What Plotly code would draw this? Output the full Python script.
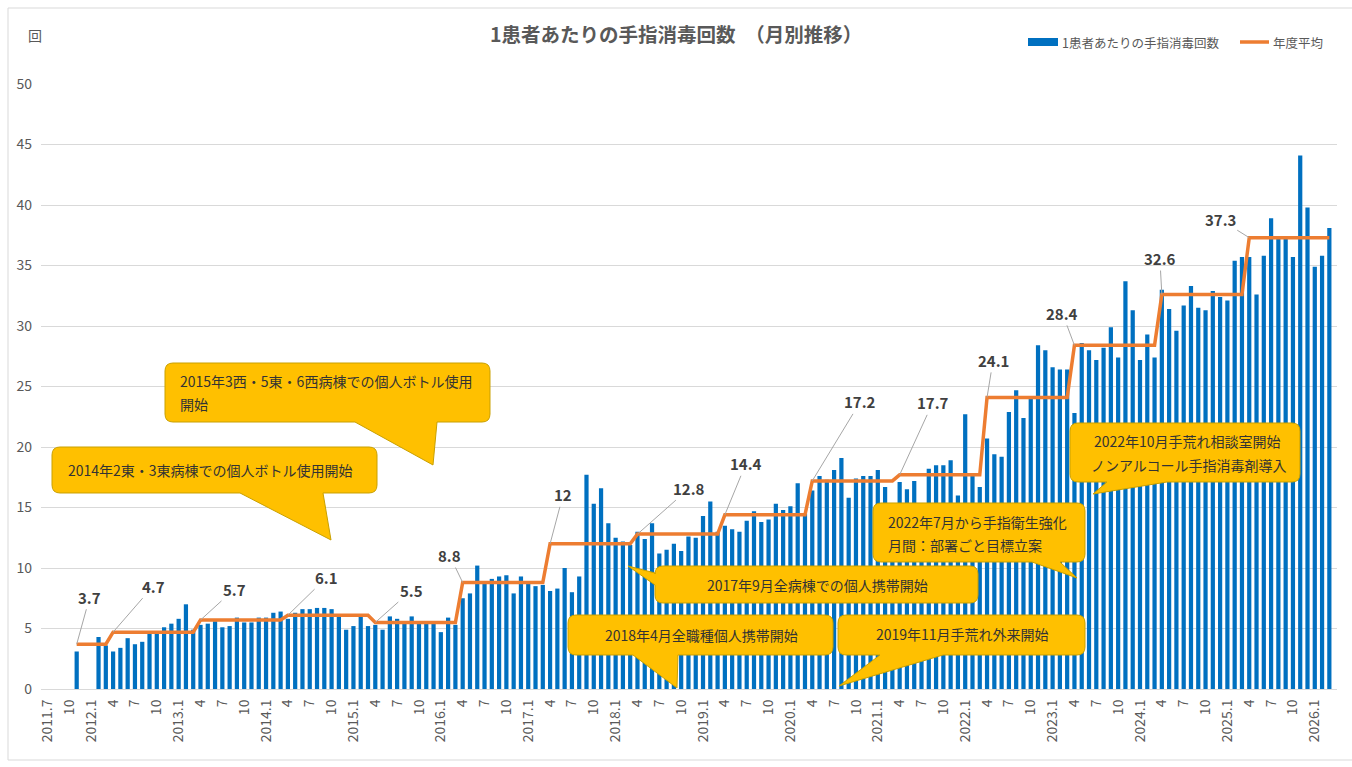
import plotly.graph_objects as go

# ---------------- data ----------------
FIRST_YEAR, FIRST_MONTH = 2011, 7
LAST_YEAR, LAST_MONTH = 2026, 3

months = []          # category keys, e.g. "2011-07"
_y, _m = FIRST_YEAR, FIRST_MONTH
while (_y, _m) <= (LAST_YEAR, LAST_MONTH):
    months.append(f"{_y}-{_m:02d}")
    _m += 1
    if _m > 12:
        _m = 1
        _y += 1

# monthly values (calendar years), None = no data
v2011 = [None, None, None, None, 3.1, None]
v2012 = [None, 4.3, 3.6, 3.1, 3.4, 4.2, 3.7, 3.9, 4.6, 4.7, 5.1, 5.4]
v2013 = [5.8, 7.0, 4.9, 5.3, 5.4, 5.6, 5.1, 5.2, 5.9, 5.5, 5.5, 5.9]
v2014 = [5.9, 6.3, 6.4, 5.8, 6.3, 6.6, 6.6, 6.7, 6.7, 6.6, 6.0, 4.9]
v2015 = [5.2, 6.0, 5.2, 5.3, 4.9, 6.0, 5.8, 5.4, 6.0, 5.4, 5.4, 5.4]
v2016 = [4.7, 5.9, 5.3, 7.5, 7.9, 10.2, 8.7, 9.1, 9.3, 9.4, 7.9, 9.3]
v2017 = [8.7, 8.5, 8.6, 8.1, 8.3, 10.0, 8.0, 9.3, 17.7, 15.3, 16.6, 13.7]
v2018 = [12.5, 12.2, 11.9, 13.0, 12.4, 13.7, 11.2, 11.5, 12.0, 11.4, 12.6, 12.5]
v2019 = [14.3, 15.5, 13.0, 13.5, 13.2, 13.0, 13.9, 14.7, 13.8, 14.0, 15.3, 14.8]
v2020 = [15.1, 17.0, 14.5, 16.4, 17.6, 17.3, 18.1, 19.1, 15.8, 17.4, 17.6, 17.6]
v2021 = [18.1, 16.7, 14.7, 17.1, 16.5, 17.2, 14.5, 18.2, 18.5, 18.5, 18.9, 16.0]
v2022 = [22.7, 17.6, 16.7, 20.7, 19.4, 19.2, 22.9, 24.7, 22.4, 24.0, 28.4, 28.0]
v2023 = [26.6, 26.4, 26.4, 22.8, 28.6, 28.0, 27.2, 28.2, 29.9, 27.4, 33.7, 31.3]
v2024 = [27.2, 29.3, 27.4, 33.0, 31.4, 29.6, 31.7, 33.3, 31.5, 31.3, 32.9, 32.4]
v2025 = [32.1, 35.4, 35.7, 35.7, 32.6, 35.8, 38.9, 37.4, 37.4, 35.7, 44.1, 39.8]
v2026 = [34.9, 35.8, 38.1]
values = (v2011 + v2012 + v2013 + v2014 + v2015 + v2016 + v2017 + v2018 +
          v2019 + v2020 + v2021 + v2022 + v2023 + v2024 + v2025 + v2026)

fiscal_years = [2011, 2012, 2013, 2014, 2015, 2016, 2017, 2018,
                2019, 2020, 2021, 2022, 2023, 2024, 2025]
fy_avg = [3.7, 4.7, 5.7, 6.1, 5.5, 8.8, 12, 12.8, 14.4, 17.2, 17.7, 24.1, 28.4, 32.6, 37.3]
fy_label_month = ["2011-11"] + [f"{fy}-04" for fy in fiscal_years[1:]]
avg_start = "2011-11"

bar_name = "1患者あたりの手指消毒回数"
line_name = "年度平均"
title_text = "1患者あたりの手指消毒回数　（月別推移）"
unit_text = "回"

callout_texts = [
    ["2014年2東・3東病棟での個人ボトル使用開始"],
    ["2015年3西・5東・6西病棟での個人ボトル使用", "開始"],
    ["2017年9月全病棟での個人携帯開始"],
    ["2018年4月全職種個人携帯開始"],
    ["2019年11月手荒れ外来開始"],
    ["2022年7月から手指衛生強化", "月間：部署ごと目標立案"],
    ["2022年10月手荒れ相談室開始", "ノンアルコール手指消毒剤導入"],
]

# ---------------- derived series ----------------
avg_x, avg_y = [], []
for mth in months[months.index(avg_start):]:
    yy, mm = map(int, mth.split("-"))
    fy = yy if mm >= 4 else yy - 1
    avg_x.append(mth)
    avg_y.append(fy_avg[fiscal_years.index(fy)])

tickvals, ticktext = [], []
for i, mth in enumerate(months):
    if i % 3 == 0:
        yy, mm = map(int, mth.split("-"))
        tickvals.append(mth)
        ticktext.append(f"{yy}.{mm}" if (mm == 1 or i == 0) else str(mm))

# ---------------- layout geometry (pixels) ----------------
W, H = 1352, 767
PL, PR, PT, PB = 41, 1337, 84, 689


def px(x):
    return (x - PL) / (PR - PL)


def py(y):
    return (PB - y) / (PB - PT)


FONT = "Noto Sans CJK JP, Noto Sans, sans-serif"
GRAY = "#595959"

fig = go.Figure()
fig.add_trace(go.Bar(x=months, y=values, name=bar_name, marker_color="#0070C0",
                     marker_line_width=0, showlegend=False, hoverinfo="skip"))
fig.add_trace(go.Scatter(x=avg_x, y=avg_y, name=line_name, mode="lines",
                         line=dict(color="#ED7D31", width=3.5), showlegend=False,
                         hoverinfo="skip"))

annotations = []
shapes = []

# data labels of fiscal-year averages (x as category index)
label_offsets = [(13, -47), (40, -46), (34, -31), (39, -38), (36, -32), (-13, -27),
                 (13, -49), (52, -46), (21, -51), (48, -79), (33, -72), (6, -37),
                 (-12, -32), (-2, -36), (-29, -18)]
for v, mth, (dx, dy) in zip(fy_avg, fy_label_month, label_offsets):
    annotations.append(dict(
        x=months.index(mth), y=v, xref="x", yref="y", text=f"<b>{v:g}</b>",
        showarrow=True, arrowhead=0, arrowwidth=1, arrowcolor="#A6A6A6",
        ax=dx, ay=dy, standoff=0,
        font=dict(family=FONT, size=15, color="#404040")))

# callouts (box in px, tail, text line positions)
callout_geom = [
    dict(box=(52, 447, 377, 493), tail=("bottom", 240, 323, 331, 540),
         pos=[(66, 470, "left")]),
    dict(box=(165, 363, 490, 422), tail=("bottom", 355, 437, 433, 465),
         pos=[(178, 381, "left"), (178, 404, "left")]),
    dict(box=(655, 566, 978, 603), tail=("left", 573, 585, 628, 566),
         pos=[(817, 585, "center")]),
    dict(box=(568, 615, 833, 655), tail=("bottom", 633, 678, 677, 688),
         pos=[(701, 635, "center")]),
    dict(box=(838, 615, 1085, 655), tail=("bottom", 880, 943, 839, 686),
         pos=[(962, 634, "center")]),
    dict(box=(873, 503, 1085, 562), tail=("bottom", 1032, 1060, 1077, 578),
         pos=[(886, 522, "left"), (886, 545, "left")]),
    dict(box=(1070, 423, 1300, 482), tail=("bottom", 1107, 1167, 1093, 494),
         pos=[(1187, 441, "center"), (1189, 465, "center")]),
]


def P(x, y):
    return f"{px(x):.5f},{py(y):.5f}"


def callout_path(box, tail, r=8):
    x0, y0, x1, y1 = box
    side, b0, b1, tx, ty = tail
    s = f"M {P(x0 + r, y0)} L {P(x1 - r, y0)} Q {P(x1, y0)} {P(x1, y0 + r)} "
    s += f"L {P(x1, y1 - r)} Q {P(x1, y1)} {P(x1 - r, y1)} "
    if side == "bottom":
        s += f"L {P(b1, y1)} L {P(tx, ty)} L {P(b0, y1)} "
    s += f"L {P(x0 + r, y1)} Q {P(x0, y1)} {P(x0, y1 - r)} "
    if side == "left":
        s += f"L {P(x0, b1)} L {P(tx, ty)} L {P(x0, b0)} "
    s += f"L {P(x0, y0 + r)} Q {P(x0, y0)} {P(x0 + r, y0)} Z"
    return s


for texts, g in zip(callout_texts, callout_geom):
    shapes.append(dict(type="path", xref="paper", yref="paper",
                       path=callout_path(g["box"], g["tail"]),
                       fillcolor="#FFC000", line=dict(color="#C9A000", width=1),
                       layer="above"))
    for t, (tx, ty, al) in zip(texts, g["pos"]):
        annotations.append(dict(
            x=px(tx), y=py(ty), xref="paper", yref="paper", text=t,
            showarrow=False, xanchor=al, yanchor="middle",
            font=dict(family=FONT, size=14, color="#333333")))

# title, unit
annotations.append(dict(x=px(676), y=py(33), xref="paper", yref="paper",
                        text=f"<b>{title_text}</b>", showarrow=False,
                        xanchor="center", yanchor="middle",
                        font=dict(family=FONT, size=19.5, color=GRAY)))
annotations.append(dict(x=px(35), y=py(35), xref="paper", yref="paper",
                        text=unit_text, showarrow=False, xanchor="center",
                        yanchor="middle", font=dict(family=FONT, size=14, color=GRAY)))

# manual legend
shapes.append(dict(type="rect", xref="paper", yref="paper",
                   x0=px(1028), x1=px(1058), y0=py(46), y1=py(38),
                   fillcolor="#0070C0", line=dict(width=0)))
annotations.append(dict(x=px(1060), y=py(42), xref="paper", yref="paper",
                        text=bar_name, showarrow=False, xanchor="left", yanchor="middle",
                        font=dict(family=FONT, size=12.5, color=GRAY)))
shapes.append(dict(type="line", xref="paper", yref="paper",
                   x0=px(1240), x1=px(1269), y0=py(42), y1=py(42),
                   line=dict(color="#ED7D31", width=3.5)))
annotations.append(dict(x=px(1271), y=py(42), xref="paper", yref="paper",
                        text=line_name, showarrow=False, xanchor="left", yanchor="middle",
                        font=dict(family=FONT, size=12.5, color=GRAY)))

# chart-area border
shapes.append(dict(type="rect", xref="paper", yref="paper",
                   x0=px(8), x1=px(1360), y0=py(760), y1=py(8),
                   line=dict(color="#D9D9D9", width=1), fillcolor="rgba(0,0,0,0)",
                   layer="below"))

fig.update_layout(
    width=W, height=H, autosize=False,
    margin=dict(l=PL, r=W - PR, t=PT, b=H - PB, pad=0),
    paper_bgcolor="white", plot_bgcolor="white",
    bargap=0.42,
    showlegend=False,
    annotations=annotations,
    shapes=shapes,
    font=dict(family=FONT, color=GRAY),
    xaxis=dict(type="category", categoryorder="array", categoryarray=months,
               range=[-0.9, len(months) + 0.05],
               tickmode="array", tickvals=tickvals, ticktext=ticktext,
               tickangle=-90, tickfont=dict(family=FONT, size=14, color=GRAY),
               showgrid=False, showline=True, linecolor="#D9D9D9", linewidth=1,
               ticks="", ticklabelstandoff=4),
    yaxis=dict(range=[0, 50], tickmode="linear", tick0=0, dtick=5,
               showgrid=True, gridcolor="#D9D9D9", gridwidth=1,
               zeroline=False, showline=False, ticks="",
               tickfont=dict(family=FONT, size=14, color=GRAY),
               ticklabelstandoff=8),
)

fig.write_html("out.html", config={"displayModeBar": False},
               post_script="document.body.style.margin='0';")
